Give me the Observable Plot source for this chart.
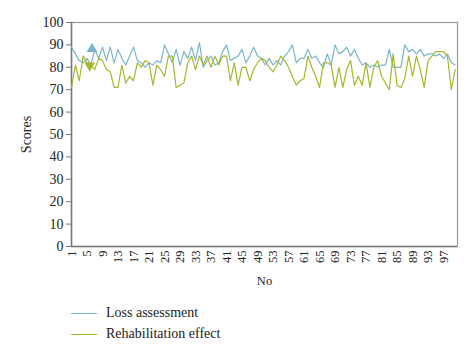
<!DOCTYPE html>
<html><head><meta charset="utf-8">
<script src="https://cdn.jsdelivr.net/npm/d3@7"></script>
<script src="https://cdn.jsdelivr.net/npm/@observablehq/plot@0.6"></script>
<style>
body{margin:0;background:#fff;font-family:"Liberation Serif",serif;}
svg text{font-family:"Liberation Serif",serif !important;}
#legend{position:relative;height:63px;width:474px;}
.item{position:absolute;left:71px;display:flex;align-items:center;font-size:14px;color:#222;height:16px;}
.sw{width:26px;height:0;border-top:1.3px solid;margin-right:9px}
</style></head><body>
<div id="chart"></div>
<div id="legend"></div>
<script>
const no = d3.range(1, 101);
const xTicks = d3.range(1, 100, 4);
const yTicks = [0,10,20,30,40,50,60,70,80,90,100];
const seriesNames = ["Loss assessment", "Rehabilitation effect"];
const colors = ["#78b6cf", "#a5b82c"];
const loss = [89,86,83,82,84,81,88,84,89,83,89,82,88,84,81,85,89,83,82,80,
              82,81,83,82,90,86,82,88,81,87,84,89,83,91,80,83,85,81,82,87,
              90,83,84,85,88,82,85,89,85,84,81,84,81,83,81,85,87,90,82,84,
              84,88,84,85,82,80,86,81,90,86,87,89,85,88,84,81,82,80,81,80,
              81,81,88,80,80,80,90,87,88,86,88,85,86,86,85,86,84,86,82,81];
const rehab = [71,81,74,85,82,81,79,84,83,79,78,71,71,81,73,76,74,82,80,83,
               82,72,81,79,76,85,85,71,72,73,82,85,79,85,81,85,80,85,81,85,
               85,74,82,72,80,80,74,79,82,84,83,80,78,81,85,83,80,76,72,74,
               75,85,80,76,71,82,82,81,71,80,71,79,83,72,76,72,82,71,80,83,
               76,73,70,86,72,71,75,85,76,85,79,71,83,85,87,87,87,85,70,79];
// small arrow-head markers seen near the start of the chart
const markerNo = [6.3, 5.7];
const markerVal = [88.2, 80.8];
const markerRot = [0, 180];

const data = [];
no.forEach((n, i) => {
  data.push({no: n, v: loss[i], s: seriesNames[0]});
  data.push({no: n, v: rehab[i], s: seriesNames[1]});
});
const markers = markerNo.map((n, i) => ({no: n, v: markerVal[i], s: seriesNames[i], r: markerRot[i]}));

const font = "'Liberation Serif', serif";
const chart = Plot.plot({
  width: 474, height: 292,
  marginLeft: 71, marginRight: 17, marginTop: 22, marginBottom: 46,
  style: {fontFamily: font, fontSize: "13px", color: "#222", background: "#fff"},
  x: {domain: [1, 100.6]},
  y: {domain: [0, 100]},
  color: {domain: seriesNames, range: colors},
  marks: [
    Plot.frame({stroke: "#9a9a9a", strokeWidth: 1.2}),
    Plot.axisY({ticks: yTicks, tickSize: 5, tickPadding: 3, fontSize: 14, fontFamily: font, label: "Scores", labelAnchor: "center", labelArrow: "none", labelOffset: 50, stroke: "#777"}),
    Plot.axisX({ticks: xTicks, tickSize: 0, tickPadding: 4, tickRotate: -90, fontSize: 12.5, fontFamily: font, label: "No", labelAnchor: "center", labelArrow: "none", labelOffset: 38}),
    Plot.ruleY([0], {stroke: "#777", strokeWidth: 1.5}),
    Plot.ruleX([1], {stroke: "#777", strokeWidth: 1.5}),
    Plot.line(data, {x: "no", y: "v", z: "s", stroke: "s", strokeWidth: 1.2}),
    Plot.dot(markers, {x: "no", y: "v", fill: "s", symbol: "triangle", r: 4, rotate: "r"})
  ]
});
document.getElementById("chart").appendChild(chart);

const lg = document.getElementById("legend");
seriesNames.forEach((name, i) => {
  const it = document.createElement("div");
  it.className = "item";
  it.style.top = (13 + i * 21) + "px";
  const sw = document.createElement("span");
  sw.className = "sw";
  sw.style.borderColor = colors[i];
  const t = document.createElement("span");
  t.textContent = name;
  it.appendChild(sw); it.appendChild(t);
  lg.appendChild(it);
});
</script>
</body></html>
